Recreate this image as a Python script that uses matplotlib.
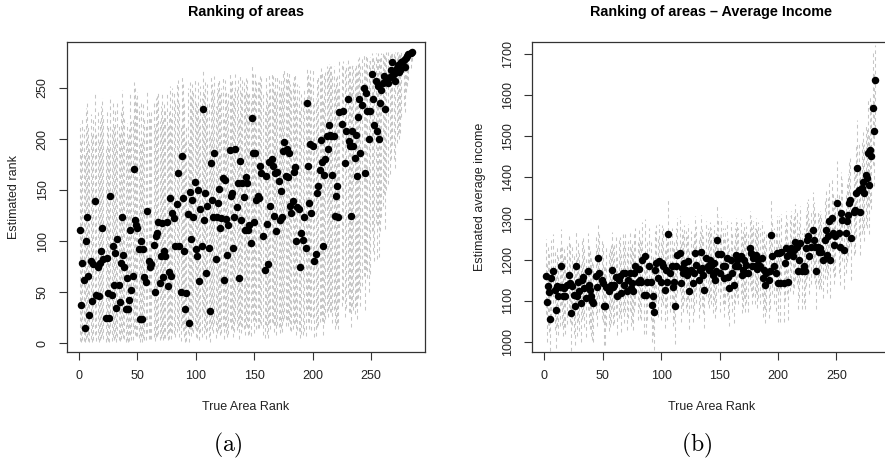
"""Ranking of areas: estimated rank / average income against true area rank, with interval bars."""

import matplotlib

matplotlib.use("Agg")
import matplotlib.pyplot as plt

plt.rcParams["font.family"] = ["Liberation Sans", "DejaVu Sans"]
plt.rcParams["mathtext.fontset"] = "cm"

# ---- panel (a): estimated rank ----
ranks_a = [
    1, 2, 3, 4, 5, 6, 7, 8, 9, 10,
    11, 12, 14, 15, 16, 17, 18, 19, 20, 21,
    23, 24, 25, 26, 27, 28, 29, 30, 31, 32,
    33, 34, 35, 36, 37, 38, 39, 40, 41, 42,
    43, 44, 45, 46, 47, 48, 49, 50, 51, 52,
    53, 54, 55, 56, 57, 58, 60, 61, 62, 64,
    65, 66, 67, 68, 69, 70, 71, 72, 73, 74,
    75, 76, 77, 78, 79, 80, 81, 82, 84, 85,
    86, 87, 88, 89, 90, 91, 92, 93, 94, 95,
    96, 97, 98, 99, 100, 101, 102, 103, 104, 105,
    106, 107, 108, 109, 110, 111, 112, 113, 114, 115,
    116, 117, 118, 119, 120, 121, 122, 123, 124, 125,
    126, 127, 128, 129, 130, 131, 132, 133, 134, 135,
    136, 137, 138, 139, 140, 141, 142, 143, 144, 145,
    146, 147, 148, 149, 150, 151, 152, 153, 154, 155,
    156, 158, 159, 160, 161, 162, 163, 164, 165, 166,
    167, 168, 169, 170, 171, 172, 173, 174, 175, 176,
    177, 178, 179, 180, 181, 182, 183, 184, 185, 186,
    187, 188, 189, 190, 192, 193, 194, 195, 196, 197,
    198, 199, 200, 201, 203, 204, 205, 206, 207, 208,
    209, 210, 211, 212, 213, 214, 215, 216, 217, 218,
    219, 220, 221, 222, 223, 225, 226, 228, 229, 230,
    231, 232, 233, 234, 235, 236, 237, 238, 239, 240,
    241, 242, 244, 245, 246, 247, 248, 249, 251, 252,
    253, 254, 255, 256, 257, 258, 259, 260, 261, 262,
    263, 265, 266, 267, 268, 270, 271, 272, 273, 274,
    275, 276, 278, 279, 280, 281, 282, 284, 285,
]
est_a = [
    111, 37, 78, 62, 15, 100, 124, 66, 27, 80,
    41, 77, 139, 47, 75, 46, 78, 90, 113, 82,
    25, 83, 49, 25, 144, 47, 95, 57, 88, 34,
    102, 57, 40, 78, 124, 86, 75, 33, 64, 33,
    42, 111, 52, 66, 171, 121, 116, 113, 92, 24,
    100, 24, 92, 65, 60, 129, 80, 75, 77, 96,
    50, 105, 108, 119, 59, 85, 118, 65, 90, 85,
    119, 56, 70, 142, 66, 127, 123, 95, 136, 167,
    95, 50, 183, 142, 90, 33, 49, 126, 20, 148,
    102, 140, 124, 158, 92, 85, 150, 61, 131, 95,
    229, 121, 147, 69, 134, 93, 31, 176, 140, 124,
    186, 82, 124, 137, 151, 113, 123, 162, 62, 160,
    122, 86, 116, 189, 144, 147, 93, 124, 190, 133,
    157, 64, 178, 121, 157, 143, 111, 163, 157, 111,
    116, 98, 221, 186, 119, 186, 140, 144, 142, 174,
    167, 105, 72, 164, 117, 77, 177, 134, 180, 174,
    125, 167, 110, 168, 159, 121, 149, 124, 188, 197,
    164, 190, 163, 186, 134, 127, 139, 168, 173, 100,
    133, 131, 75, 108, 101, 124, 93, 235, 174, 137,
    195, 127, 193, 80, 87, 147, 154, 170, 199, 177,
    95, 165, 180, 203, 190, 214, 204, 203, 165, 203,
    125, 144, 154, 124, 226, 215, 227, 176, 208, 239,
    198, 193, 125, 208, 193, 181, 204, 164, 222, 239,
    186, 233, 250, 167, 245, 227, 200, 227, 264, 239,
    214, 257, 208, 252, 200, 235, 248, 255, 262, 229,
    258, 255, 261, 268, 275, 264, 257, 270, 273, 266,
    268, 275, 277, 271, 279, 281, 283, 284, 285,
]
hi_a = [
    215, 200, 222, 210, 185, 230, 238, 212, 195, 225,
    205, 220, 245, 208, 226, 200, 218, 232, 240, 224,
    190, 228, 212, 195, 242, 210, 236, 215, 230, 200,
    238, 214, 205, 226, 248, 232, 220, 198, 216, 202,
    210, 244, 218, 222, 256, 250, 240, 246, 232, 196,
    238, 198, 236, 220, 214, 248, 228, 222, 226, 236,
    215, 240, 242, 246, 218, 232, 246, 220, 234, 230,
    244, 214, 226, 252, 222, 250, 246, 236, 254, 258,
    238, 214, 262, 254, 236, 200, 212, 250, 196, 256,
    242, 254, 248, 258, 236, 232, 256, 222, 252, 240,
    268, 248, 256, 228, 254, 238, 205, 262, 254, 248,
    262, 232, 250, 256, 258, 244, 250, 260, 222, 258,
    248, 236, 246, 264, 256, 258, 240, 250, 264, 252,
    258, 222, 262, 248, 258, 256, 244, 260, 258, 244,
    246, 240, 272, 264, 248, 264, 256, 256, 256, 262,
    260, 244, 228, 262, 248, 234, 264, 254, 264, 262,
    250, 262, 244, 262, 258, 248, 258, 250, 266, 268,
    260, 266, 260, 266, 254, 250, 256, 262, 264, 238,
    254, 252, 230, 244, 240, 250, 236, 270, 264, 256,
    268, 254, 268, 236, 240, 260, 262, 266, 270, 266,
    240, 264, 266, 272, 268, 274, 272, 272, 264, 272,
    252, 260, 262, 252, 276, 274, 276, 268, 274, 278,
    272, 272, 256, 274, 272, 270, 274, 266, 278, 280,
    272, 280, 282, 268, 282, 280, 276, 280, 284, 282,
    278, 284, 280, 284, 278, 282, 284, 285, 285, 282,
    285, 285, 285, 285, 285, 285, 285, 285, 285, 285,
    285, 285, 285, 285, 285, 285, 285, 285, 285,
]
lo_a = [
    2, 1, 3, 2, 1, 4, 6, 2, 1, 4,
    1, 3, 8, 2, 4, 1, 3, 5, 8, 4,
    1, 4, 2, 1, 10, 2, 6, 3, 5, 1,
    6, 3, 2, 4, 9, 5, 4, 1, 3, 1,
    2, 8, 3, 3, 14, 8, 7, 7, 5, 1,
    6, 1, 5, 3, 3, 10, 4, 4, 4, 6,
    2, 6, 7, 9, 3, 5, 8, 3, 5, 5,
    8, 3, 4, 12, 4, 10, 9, 6, 11, 16,
    6, 2, 18, 12, 6, 1, 2, 10, 1, 14,
    7, 12, 10, 15, 6, 5, 14, 3, 11, 6,
    30, 9, 14, 4, 12, 6, 1, 18, 13, 10,
    20, 5, 10, 13, 15, 8, 10, 17, 4, 16,
    10, 6, 9, 21, 14, 15, 6, 11, 22, 13,
    16, 4, 19, 10, 16, 14, 8, 18, 16, 8,
    9, 7, 28, 22, 10, 22, 14, 15, 15, 20,
    18, 8, 5, 18, 9, 5, 20, 14, 21, 20,
    11, 18, 8, 18, 16, 10, 15, 11, 22, 25,
    17, 23, 17, 22, 13, 12, 14, 19, 20, 8,
    13, 12, 5, 9, 8, 12, 7, 32, 21, 14,
    26, 13, 25, 6, 7, 16, 18, 21, 27, 22,
    8, 20, 24, 30, 26, 34, 30, 30, 20, 32,
    14, 18, 20, 14, 40, 36, 42, 26, 34, 48,
    30, 30, 16, 36, 32, 28, 36, 24, 44, 52,
    36, 56, 66, 32, 72, 64, 50, 68, 110, 90,
    80, 118, 82, 116, 84, 110, 124, 134, 146, 112,
    150, 156, 166, 180, 194, 180, 172, 196, 205, 200,
    206, 222, 232, 226, 246, 252, 258, 270, 276,
]

# ---- panel (b): estimated average income ----
ranks_b = [
    1, 2, 3, 4, 5, 6, 7, 9, 10, 11,
    12, 13, 14, 15, 16, 17, 18, 19, 21, 22,
    23, 24, 25, 26, 27, 28, 29, 30, 31, 32,
    33, 34, 36, 37, 38, 39, 40, 41, 42, 44,
    45, 46, 47, 49, 50, 51, 52, 53, 55, 56,
    57, 58, 59, 60, 61, 62, 64, 65, 66, 67,
    68, 69, 71, 72, 73, 74, 75, 76, 77, 78,
    80, 81, 82, 83, 84, 85, 86, 87, 88, 90,
    91, 92, 93, 94, 95, 96, 97, 98, 100, 101,
    102, 103, 104, 105, 106, 108, 109, 110, 111, 112,
    113, 114, 116, 117, 118, 119, 120, 121, 122, 123,
    124, 126, 127, 128, 129, 130, 132, 133, 134, 135,
    136, 137, 138, 140, 141, 142, 143, 144, 145, 146,
    147, 148, 149, 150, 151, 153, 154, 155, 156, 157,
    158, 160, 161, 162, 163, 164, 165, 166, 168, 169,
    170, 171, 172, 173, 174, 176, 177, 178, 179, 180,
    181, 182, 183, 185, 186, 187, 188, 189, 190, 192,
    193, 194, 195, 197, 198, 199, 200, 201, 202, 203,
    205, 206, 207, 208, 209, 210, 211, 213, 214, 215,
    216, 217, 218, 219, 221, 222, 223, 224, 225, 226,
    227, 228, 230, 231, 232, 233, 234, 235, 236, 237,
    239, 240, 241, 242, 243, 244, 245, 246, 247, 248,
    249, 251, 252, 253, 254, 255, 257, 258, 259, 260,
    261, 262, 263, 265, 266, 267, 268, 269, 270, 272,
    273, 274, 275, 276, 277, 278, 279, 280, 281, 282,
    283,
]
est_b = [
    1161, 1097, 1137, 1121, 1056, 1155, 1172, 1127, 1078, 1137,
    1111, 1135, 1184, 1135, 1111, 1131, 1112, 1139, 1163, 1143,
    1070, 1137, 1115, 1087, 1184, 1111, 1147, 1123, 1095, 1151,
    1159, 1131, 1107, 1172, 1139, 1127, 1111, 1099, 1095, 1161,
    1135, 1204, 1169, 1151, 1143, 1087, 1087, 1135, 1123, 1131,
    1139, 1176, 1135, 1139, 1159, 1112, 1151, 1161, 1119, 1167,
    1139, 1167, 1123, 1151, 1169, 1131, 1143, 1123, 1167, 1184,
    1147, 1177, 1151, 1147, 1200, 1115, 1208, 1115, 1147, 1184,
    1147, 1091, 1111, 1074, 1176, 1192, 1155, 1196, 1147, 1192,
    1184, 1127, 1176, 1147, 1262, 1167, 1184, 1134, 1147, 1088,
    1184, 1212, 1216, 1143, 1180, 1167, 1192, 1176, 1163, 1196,
    1125, 1176, 1143, 1167, 1216, 1188, 1151, 1176, 1218, 1180,
    1163, 1127, 1204, 1184, 1176, 1200, 1184, 1163, 1192, 1151,
    1172, 1247, 1214, 1167, 1214, 1184, 1155, 1184, 1204, 1159,
    1131, 1200, 1167, 1139, 1184, 1212, 1200, 1184, 1208, 1163,
    1176, 1200, 1167, 1188, 1167, 1228, 1216, 1184, 1204, 1184,
    1212, 1177, 1200, 1184, 1204, 1155, 1176, 1139, 1167, 1151,
    1172, 1261, 1210, 1184, 1169, 1216, 1143, 1216, 1143, 1220,
    1143, 1192, 1228, 1208, 1147, 1216, 1228, 1208, 1224, 1244,
    1232, 1172, 1200, 1240, 1172, 1184, 1172, 1228, 1248, 1257,
    1208, 1232, 1273, 1248, 1232, 1172, 1232, 1220, 1228, 1220,
    1200, 1248, 1273, 1212, 1257, 1293, 1200, 1301, 1265, 1236,
    1257, 1337, 1265, 1232, 1313, 1297, 1224, 1265, 1293, 1309,
    1337, 1346, 1252, 1317, 1321, 1362, 1422, 1370, 1317, 1374,
    1390, 1362, 1406, 1398, 1459, 1382, 1467, 1451, 1568, 1513,
    1637,
]
hi_b = [
    1250, 1195, 1232, 1220, 1160, 1248, 1262, 1225, 1178, 1235,
    1210, 1230, 1275, 1232, 1212, 1228, 1210, 1236, 1258, 1240,
    1170, 1235, 1212, 1185, 1272, 1210, 1245, 1220, 1195, 1248,
    1255, 1228, 1205, 1266, 1236, 1225, 1210, 1198, 1195, 1258,
    1232, 1285, 1262, 1248, 1240, 1185, 1188, 1232, 1220, 1228,
    1236, 1268, 1232, 1236, 1255, 1210, 1248, 1256, 1216, 1262,
    1236, 1262, 1220, 1246, 1264, 1228, 1240, 1220, 1262, 1278,
    1244, 1272, 1248, 1244, 1292, 1212, 1298, 1212, 1244, 1278,
    1244, 1190, 1210, 1172, 1270, 1285, 1250, 1288, 1244, 1285,
    1278, 1224, 1270, 1244, 1350, 1262, 1278, 1230, 1244, 1186,
    1278, 1302, 1306, 1240, 1274, 1262, 1285, 1270, 1258, 1288,
    1222, 1270, 1240, 1262, 1306, 1282, 1248, 1270, 1308, 1274,
    1258, 1224, 1295, 1278, 1270, 1292, 1278, 1258, 1285, 1248,
    1266, 1335, 1304, 1262, 1304, 1278, 1250, 1278, 1295, 1254,
    1228, 1292, 1262, 1236, 1278, 1302, 1292, 1278, 1298, 1258,
    1270, 1292, 1262, 1282, 1262, 1318, 1306, 1278, 1295, 1278,
    1302, 1272, 1292, 1278, 1295, 1250, 1270, 1236, 1262, 1248,
    1266, 1350, 1300, 1278, 1264, 1306, 1240, 1306, 1240, 1310,
    1240, 1285, 1318, 1298, 1244, 1306, 1318, 1298, 1314, 1335,
    1322, 1266, 1292, 1330, 1266, 1278, 1266, 1318, 1340, 1348,
    1298, 1322, 1365, 1340, 1322, 1266, 1322, 1310, 1318, 1310,
    1292, 1342, 1368, 1302, 1350, 1390, 1292, 1398, 1360, 1328,
    1352, 1440, 1362, 1325, 1412, 1395, 1318, 1362, 1392, 1408,
    1445, 1455, 1352, 1425, 1430, 1475, 1540, 1485, 1425, 1490,
    1510, 1480, 1530, 1520, 1590, 1505, 1600, 1580, 1710, 1650,
    1722,
]
lo_b = [
    1068, 1000, 1042, 1025, 978, 1060, 1078, 1030, 985, 1040,
    1018, 1040, 1090, 1042, 1015, 1036, 1020, 1045, 1068, 1048,
    978, 1042, 1020, 992, 1092, 1015, 1052, 1028, 1000, 1056,
    1064, 1036, 1012, 1078, 1044, 1032, 1016, 1004, 1000, 1066,
    1040, 1112, 1074, 1056, 1048, 992, 994, 1040, 1028, 1036,
    1046, 1082, 1042, 1046, 1066, 1018, 1058, 1068, 1024, 1074,
    1046, 1074, 1030, 1058, 1076, 1038, 1050, 1030, 1074, 1090,
    1054, 1084, 1058, 1054, 1106, 1020, 1114, 1020, 1054, 1090,
    1054, 1000, 1018, 982, 1082, 1098, 1062, 1102, 1054, 1098,
    1090, 1034, 1082, 1054, 1170, 1074, 1090, 1040, 1054, 996,
    1092, 1120, 1124, 1050, 1088, 1074, 1100, 1084, 1070, 1104,
    1032, 1084, 1050, 1074, 1124, 1096, 1058, 1084, 1126, 1088,
    1070, 1034, 1112, 1092, 1084, 1108, 1092, 1070, 1100, 1058,
    1080, 1155, 1122, 1074, 1122, 1092, 1062, 1092, 1112, 1066,
    1038, 1108, 1074, 1046, 1092, 1120, 1108, 1092, 1116, 1070,
    1084, 1108, 1074, 1096, 1074, 1136, 1124, 1092, 1112, 1092,
    1120, 1084, 1108, 1092, 1112, 1062, 1084, 1046, 1074, 1058,
    1080, 1170, 1118, 1092, 1076, 1124, 1050, 1124, 1050, 1128,
    1050, 1100, 1136, 1116, 1054, 1124, 1136, 1116, 1132, 1152,
    1140, 1080, 1108, 1148, 1080, 1092, 1080, 1136, 1156, 1164,
    1116, 1140, 1180, 1156, 1140, 1080, 1140, 1128, 1136, 1128,
    1108, 1154, 1178, 1120, 1162, 1196, 1106, 1204, 1170, 1142,
    1160, 1236, 1168, 1138, 1214, 1198, 1128, 1168, 1194, 1210,
    1232, 1240, 1152, 1212, 1216, 1252, 1306, 1258, 1212, 1262,
    1272, 1246, 1284, 1278, 1330, 1262, 1338, 1324, 1430, 1380,
    1520,
]

assert len(ranks_a) == len(est_a) == len(hi_a) == len(lo_a)
assert len(ranks_b) == len(est_b) == len(hi_b) == len(lo_b)

W, H = 885, 472
fig = plt.figure(figsize=(W / 100, H / 100), dpi=100)

# (axes left px, data..., y limits, y ticks, title, y label, caption, caption x px, y label x px)
panels = [
    (66.8, ranks_a, est_a, lo_a, hi_a, (-8.8, 294.8), range(0, 251, 50),
     "Ranking of areas", "Estimated rank", r"$\mathrm{(a)}$", 228, 14),
    (532.2, ranks_b, est_b, lo_b, hi_b, (976, 1728), range(1000, 1701, 100),
     "Ranking of areas \u2013 Average Income", "Estimated average income", r"$\mathrm{(b)}$", 697, 480),
]

for left, xs, ys, lo, hi, ylim, yticks, title, ylabel, caption, cap_x, ylab_x in panels:
    ax = fig.add_axes([left / W, 1 - 352 / H, 358.3 / W, 309.7 / H])
    ax.vlines(xs, lo, hi, colors="#c6c6c6", linestyles=(0, (3.5, 3)), linewidth=0.75, zorder=1)
    ax.plot(xs, ys, "o", color="black", markersize=5.4, markeredgewidth=0, zorder=2)

    ax.set_xlim(-10.4, 296.4)
    ax.set_ylim(*ylim)
    ax.set_xticks(range(0, 251, 50))
    ax.set_yticks(list(yticks))
    for sp in ax.spines.values():
        sp.set_color("#333333")
        sp.set_linewidth(0.9)
    ax.tick_params(direction="out", length=6, width=0.8, color="#333333",
                   labelsize=9, pad=7, labelcolor="#222222")
    ax.tick_params(axis="y", labelrotation=90)
    for lab in ax.get_yticklabels():
        lab.set_va("center")

    ax.set_xlabel("True Area Rank", fontsize=9, color="#222222", va="center")
    ax.xaxis.set_label_coords(0.5, -(407 - 352) / 309.7)
    ax.set_ylabel(ylabel, fontsize=9, color="#222222", va="center")
    ax.yaxis.set_label_coords((ylab_x - left) / 358.3, 0.5)

    fig.text((left + 179.15) / W, 1 - 12 / H, title, ha="center", va="center",
             fontsize=10.4, fontweight="bold")
    fig.text(cap_x / W, 1 - 445 / H, caption, ha="center", va="center", fontsize=17)

fig.savefig("out.png", dpi=100)
